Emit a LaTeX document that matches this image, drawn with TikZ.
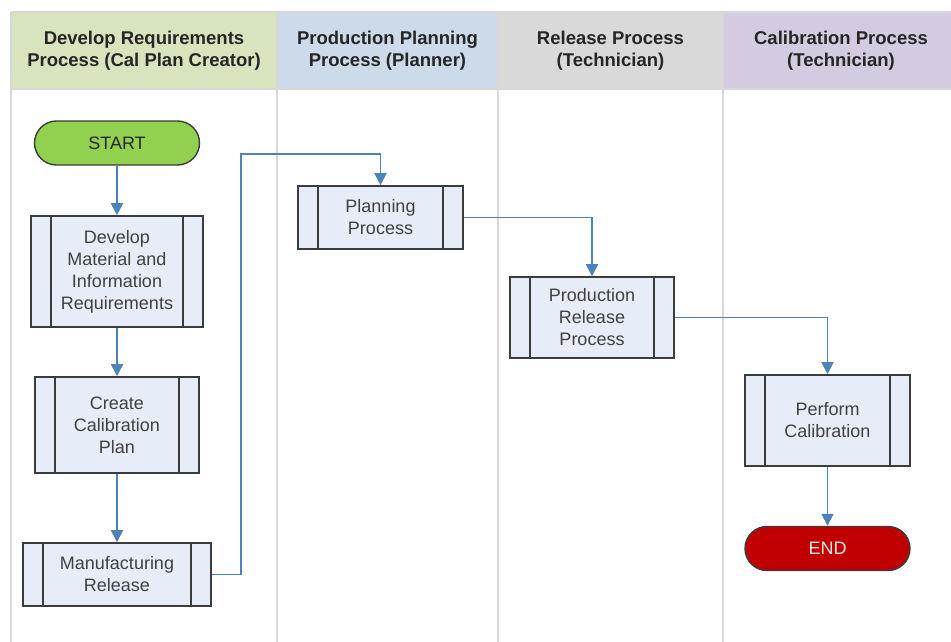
\documentclass[tikz,border=0pt]{standalone}
\usepackage{fontspec}
\setmainfont{Liberation Sans}
\usetikzlibrary{arrows.meta}
\definecolor{hgreen}{RGB}{215,228,189}
\definecolor{hblue}{RGB}{204,218,234}
\definecolor{hgray}{RGB}{217,217,217}
\definecolor{hpurple}{RGB}{212,203,224}
\definecolor{lanegray}{RGB}{215,215,215}
\definecolor{boxfill}{RGB}{230,237,248}
\definecolor{boxline}{RGB}{60,60,60}
\definecolor{arrowblue}{RGB}{79,129,189}
\definecolor{startgreen}{RGB}{146,208,80}
\definecolor{endred}{RGB}{192,0,0}
\definecolor{txtgray}{RGB}{64,64,64}
\begin{document}
\begin{tikzpicture}[x=1pt,y=-1pt,
  every node/.style={font=\fontsize{18}{22}\selectfont},
  heading/.style={align=center,font=\bfseries\fontsize{18.5}{22}\selectfont,text=black!85},
  procbox/.style={draw=boxline,line width=1.6pt,fill=boxfill,align=center,text=txtgray,
    inner sep=0pt,
    path picture={
      \draw[boxline,line width=1.6pt] ([xshift=20pt]path picture bounding box.north west) -- ([xshift=20pt]path picture bounding box.south west);
      \draw[boxline,line width=1.6pt] ([xshift=-20pt]path picture bounding box.north east) -- ([xshift=-20pt]path picture bounding box.south east);
    }},
  terminal/.style={draw=boxline,line width=1.4pt,rounded corners=22pt,minimum width=165pt,minimum height=44pt,inner sep=0pt},
  flow/.style={draw=arrowblue,line width=1.8pt,-{Triangle[width=12pt,length=12pt]}}
]
\useasboundingbox (0,0) rectangle (951,642);
% header bands
\fill[hgreen] (11,12) rectangle (277,89);
\fill[hblue] (277,12) rectangle (498,89);
\fill[hgray] (498,12) rectangle (723,89);
\fill[hpurple] (723,12) rectangle (951,89);
% lane lines
\draw[lanegray,line width=2pt] (11,12) -- (951,12);
\draw[lanegray,line width=2pt] (11,89) -- (951,89);
\draw[lanegray,line width=2pt] (11,12) -- (11,642);
\draw[lanegray,line width=2pt] (277,12) -- (277,642);
\draw[lanegray,line width=2pt] (498,12) -- (498,642);
\draw[lanegray,line width=2pt] (723,12) -- (723,642);
% headings
\node[heading] (h1) at (144,51) {Develop Requirements\\Process (Cal Plan Creator)};
\node[heading] (h2) at (387.5,51) {Production Planning\\Process (Planner)};
\node[heading] (h3) at (610.5,51) {Release Process\\(Technician)};
\node[heading] (h4) at (841,51) {Calibration Process\\(Technician)};
% nodes
\node[terminal,fill=startgreen,text=black!85] (start) at (117,143) {START};
\node[procbox,minimum width=172pt,minimum height=111pt] (dev) at (117,271.5) {Develop\\Material and\\Information\\Requirements};
\node[procbox,minimum width=164pt,minimum height=96pt] (cal) at (117,425) {Create\\Calibration\\Plan};
\node[procbox,minimum width=188pt,minimum height=63pt] (mfg) at (117,574.5) {Manufacturing\\Release};
\node[procbox,minimum width=165pt,minimum height=63pt] (plan) at (380.5,217.5) {Planning\\Process};
\node[procbox,minimum width=164pt,minimum height=81pt] (prod) at (592,317.5) {Production\\Release\\Process};
\node[procbox,minimum width=165pt,minimum height=91pt] (perf) at (827.5,420.5) {Perform\\Calibration};
\node[terminal,fill=endred,text=red!8] (end) at (827.5,548.5) {END};
% connectors
\coordinate (bend) at (241,154);
\draw[flow] (start) -- (dev);
\draw[flow] (dev) -- (cal);
\draw[flow] (cal) -- (mfg);
\draw[flow] (mfg.east) -| (bend) -| (plan.north);
\draw[flow] (plan.east) -| (prod.north);
\draw[flow] (prod.east) -| (perf.north);
\draw[flow] (perf) -- (end);
\end{tikzpicture}
\end{document}
